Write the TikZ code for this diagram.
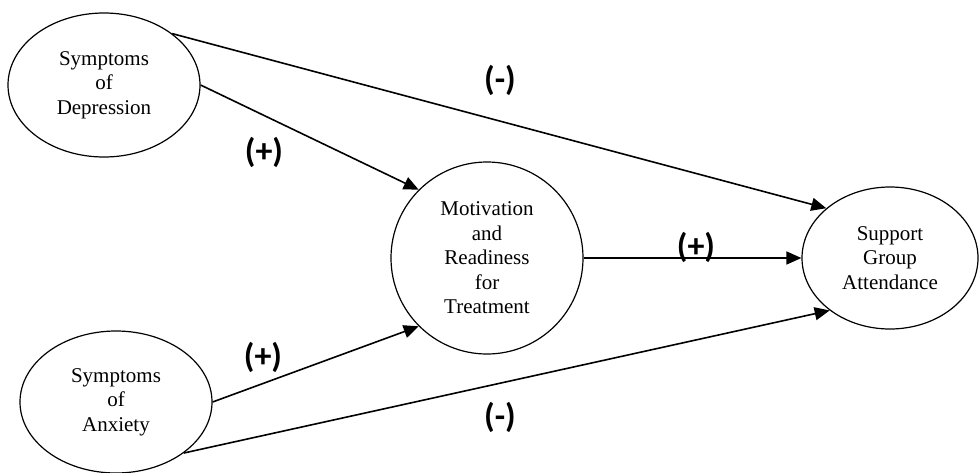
\documentclass[tikz,border=0pt]{standalone}
\usepackage{fontspec}
\setmainfont{Liberation Serif}
\newfontfamily\signfont{Carlito}
\usetikzlibrary{arrows.meta,shapes.geometric}

\begin{document}
\begin{tikzpicture}[x=1pt,y=-1pt,>={Triangle[length=15pt,width=13pt]},
  var/.style={draw,ellipse,line width=1.2pt,inner sep=0pt,align=center,
    font=\fontsize{21}{24.5}\selectfont},
  effect/.style={->,line width=1.6pt},
  sign/.style={font=\signfont\bfseries\fontsize{34}{34}\selectfont}]
  \useasboundingbox (0,0) rectangle (980,472);
  % predictors, mediator, outcome
  \node[var,minimum width=192pt,minimum height=144pt] (dep) at (104,85)  {Symptoms\\of\\Depression};
  \node[var,minimum width=192pt,minimum height=142pt] (anx) at (116,402) {Symptoms\\of\\Anxiety};
  \node[var,minimum width=192pt,minimum height=192pt] (mot) at (487,258) {Motivation\\and\\Readiness\\for\\Treatment};
  \node[var,minimum width=176pt,minimum height=142pt] (sga) at (890,258) {Support\\Group\\Attendance};
  % paths
  \draw[effect] (dep.37)  -- (sga.142);
  \draw[effect] (dep.0)   -- (mot.135);
  \draw[effect] (anx.0)   -- (mot.225);
  \draw[effect] (anx.323) -- (sga.221);
  \draw[effect] (mot.east) -- (sga.west);
  % signs
  \foreach \x/\y/\lab/\nm in {500/80/(-)/s1,264/152/(+)/s2,696/247/(+)/s3,263/357/(+)/s4,500/417/(-)/s5}
    \node[sign] (\nm) at (\x,\y) {\lab};
\end{tikzpicture}
\end{document}
